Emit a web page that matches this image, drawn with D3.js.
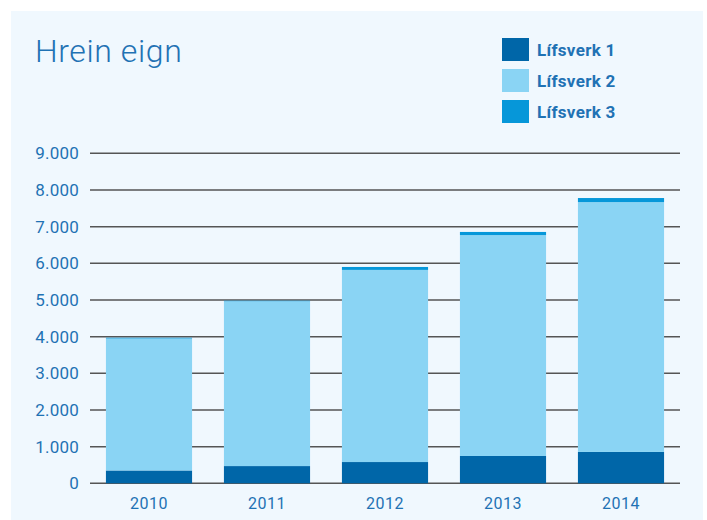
<!DOCTYPE html>
<html>
<head>
<meta charset="utf-8">
<script src="https://cdn.jsdelivr.net/npm/d3@7"></script>
<style>
  body { margin: 0; background: #fff; }
  text { font-family: Roboto, sans-serif; }
</style>
</head>
<body>
<div class="container"></div>
<script>
// values
let years = ['2010', '2011', '2012', '2013', '2014']
let lifsverk1 = [350, 470, 580, 745, 855]
let lifsverk2 = [3600, 4495, 5240, 6025, 6815]
let lifsverk3 = [20, 15, 80, 85, 110]
let seriesNames = ['Lífsverk 1', 'Lífsverk 2', 'Lífsverk 3']
let yTicks = [0, 1000, 2000, 3000, 4000, 5000, 6000, 7000, 8000, 9000]

let colors = ['#0066a8', '#8ad4f4', '#0697d9']
let textColor = '#1f72b4'

let width = 707, height = 520

let svg = d3.select('.container')
    .append('svg')
    .attr('width', width)
    .attr('height', height)

// panel
svg.append('rect')
    .attr('x', 11)
    .attr('y', 11)
    .attr('width', 692)
    .attr('height', height - 11)
    .style('fill', '#f0f8fe')

let x = d3.scaleBand()
    .domain(years)
    .range([90, 680])
    .paddingInner(0.27)
    .paddingOuter(0.135)

let y = d3.scaleLinear()
    .domain([0, 9000])
    .range([483.3, 153.3])

// grid lines
svg.append('g')
    .selectAll('line')
    .data(yTicks)
    .enter().append('line')
    .attr('x1', 90)
    .attr('x2', 680)
    .attr('y1', d => y(d))
    .attr('y2', d => y(d))
    .attr('stroke', '#555')
    .attr('stroke-width', 1.5)

let fmt = d => d === 0 ? '0' : d3.format(',')(d).replace(/,/g, '.')

svg.append('g')
    .selectAll('text')
    .data(yTicks)
    .enter().append('text')
    .attr('x', 79)
    .attr('y', d => y(d))
    .attr('dy', '0.36em')
    .attr('text-anchor', 'end')
    .style('font-size', '17px')
    .style('letter-spacing', '0.2px')
    .style('fill', textColor)
    .text(fmt)

// stacked bars
let rows = years.map((yr, i) => ({
    year: yr,
    'Lífsverk 1': lifsverk1[i],
    'Lífsverk 2': lifsverk2[i],
    'Lífsverk 3': lifsverk3[i]
}))

let stacked = d3.stack().keys(seriesNames)(rows)

svg.append('g')
    .selectAll('g')
    .data(stacked)
    .enter().append('g')
    .style('fill', (d, i) => colors[i])
    .selectAll('rect')
    .data(d => d)
    .enter().append('rect')
    .attr('x', d => x(d.data.year))
    .attr('width', x.bandwidth())
    .attr('y', d => y(d[1]))
    .attr('height', d => y(d[0]) - y(d[1]))

// x labels
svg.append('g')
    .selectAll('text')
    .data(years)
    .enter().append('text')
    .attr('x', d => x(d) + x.bandwidth() / 2)
    .attr('y', 509)
    .attr('text-anchor', 'middle')
    .style('font-size', '16px')
    .style('letter-spacing', '0.5px')
    .style('fill', textColor)
    .text(d => d)

// title
svg.append('text')
    .attr('x', 35)
    .attr('y', 62)
    .style('font-size', '32px')
    .style('font-weight', 300)
    .style('letter-spacing', '0.6px')
    .style('fill', textColor)
    .text('Hrein eign')

// legend
let legend = svg.append('g')
    .selectAll('g')
    .data(seriesNames)
    .enter().append('g')
    .attr('transform', (d, i) => 'translate(502,' + (38 + i * 31) + ')')

legend.append('rect')
    .attr('width', 27)
    .attr('height', 23)
    .style('fill', (d, i) => colors[i])

legend.append('text')
    .attr('x', 35)
    .attr('y', 18)
    .style('font-size', '17px')
    .style('font-weight', 'bold')
    .style('letter-spacing', '0.3px')
    .style('fill', textColor)
    .text(d => d)
</script>
</body>
</html>
